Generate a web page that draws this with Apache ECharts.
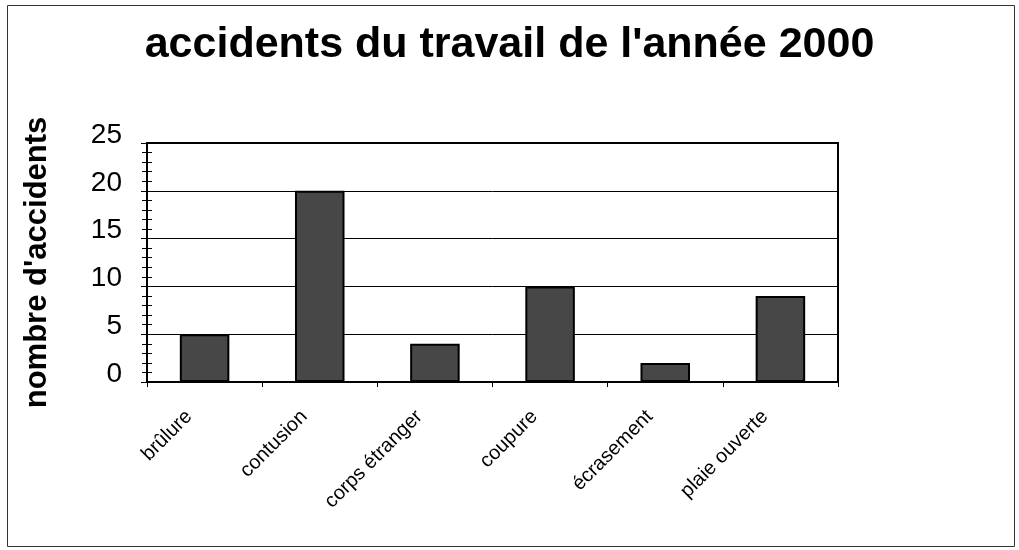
<!DOCTYPE html>
<html>
<head>
<meta charset="utf-8">
<script src="https://cdn.jsdelivr.net/npm/echarts@6/dist/echarts.min.js"></script>
<style>html,body{margin:0;padding:0;background:#fff}#c{width:1019px;height:550px}</style>
</head>
<body>
<div id="c"></div>
<script>
const titleText = "accidents du travail de l'année 2000";
const yAxisName = "nombre d'accidents";
const categories = ["brûlure", "contusion", "corps étranger", "coupure", "écrasement", "plaie ouverte"];
const values = [5, 20, 4, 10, 2, 9];

const chart = echarts.init(document.getElementById('c'));
const font = "'Liberation Sans', Arial, sans-serif";
chart.setOption({
  animation: false,
  backgroundColor: '#fff',
  graphic: [{
    type: 'rect', shape: {x: 7.5, y: 5.5, width: 1007, height: 541},
    style: {fill: 'none', stroke: '#333', lineWidth: 1}, silent: true
  }],
  title: {
    text: titleText, left: 'center', top: 19,
    textStyle: {fontFamily: font, fontWeight: 'bold', fontSize: 43, color: '#000'}
  },
  grid: {left: 147, top: 143, width: 691, height: 239, show: true, borderColor: '#000', borderWidth: 2, backgroundColor: 'transparent'},
  xAxis: {
    type: 'category', data: categories,
    axisLine: {lineStyle: {color: '#000', width: 2}},
    axisTick: {show: true, length: 5, lineStyle: {color: '#000', width: 1}},
    axisLabel: {rotate: 45, fontFamily: font, fontSize: 20, color: '#000', margin: 16, padding: [0, 22, 0, 0], interval: 0}
  },
  yAxis: [{
    type: 'value', min: 0, max: 25, interval: 5,
    name: yAxisName, nameLocation: 'middle', nameGap: 94,
    nameTextStyle: {fontFamily: font, fontWeight: 'bold', fontSize: 31, color: '#000'},
    axisLine: {show: true, lineStyle: {color: '#000', width: 2}},
    axisTick: {show: true, length: 6, lineStyle: {color: '#000', width: 1}},
    minorTick: {show: true, splitNumber: 5, length: 5, lineStyle: {color: '#000', width: 1}},
    splitLine: {show: true, lineStyle: {color: '#000', width: 1}},
    axisLabel: {fontFamily: font, fontSize: 28, color: '#000', margin: 25, verticalAlign: 'bottom', lineHeight: 16}
  }, {
    type: 'value', min: 0, max: 25, interval: 5, position: 'left',
    axisLine: {show: false},
    axisTick: {show: true, inside: true, length: 6, lineStyle: {color: '#000', width: 1}},
    minorTick: {show: true, splitNumber: 5, length: 5, lineStyle: {color: '#000', width: 1}},
    splitLine: {show: false},
    axisLabel: {show: false}
  }],
  series: [{
    type: 'bar', data: values, barWidth: '43%',
    itemStyle: {color: '#474747', borderColor: '#000', borderWidth: 2}
  }]
});
</script>
</body>
</html>
